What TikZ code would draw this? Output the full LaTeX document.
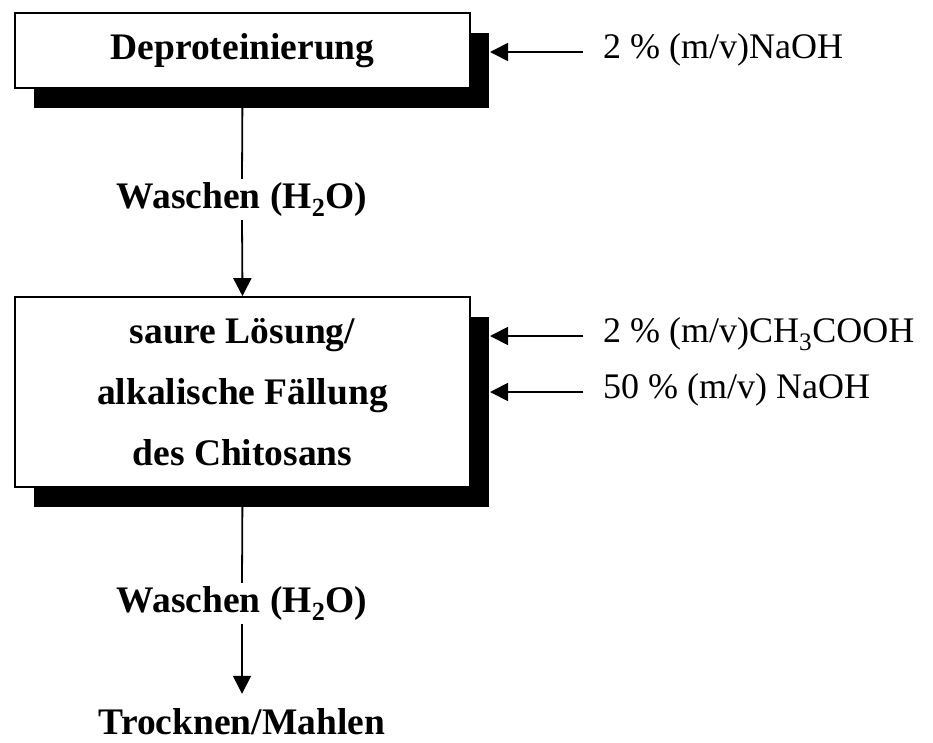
\documentclass[tikz,border=0pt]{standalone}
\usepackage{fontspec}
\setmainfont{Liberation Serif}
\usetikzlibrary{arrows.meta,shadows,calc}
\begin{document}
\begin{tikzpicture}[x=1pt,y=-1pt,
  every node/.style={font=\fontsize{36}{43}\selectfont},
  procbox/.style={draw, fill=white, line width=1.7pt, inner sep=0pt,
    minimum width=455pt,
    general shadow={fill=black, shadow xshift=19pt, shadow yshift=-19.5pt}},
  boldtxt/.style={font=\fontsize{37.5}{45}\selectfont\bfseries, inner sep=0pt},
  steptxt/.style={font=\fontsize{37.5}{45}\selectfont\bfseries, inner xsep=0pt, inner ysep=3pt},
  reagent/.style={font=\fontsize{36}{43}\selectfont, inner sep=0pt},
  flow/.style={line width=1.8pt},
  arr/.style={line width=1.8pt, -{Triangle[length=18pt,width=18pt]}}
]
\useasboundingbox (0,0) rectangle (933,742);

% boxes
\node[procbox, minimum height=75pt, font=\fontsize{37.5}{45}\selectfont\bfseries] (box1) at (242.5,50.5) {Deproteinierung};
\node[procbox, minimum height=190pt] (box2) at (242.5,392) {};
\node[boldtxt, anchor=base] (l1) at (242.5,343) {saure Lösung/};
\node[boldtxt, anchor=base] (l2) at (242.5,404) {alkalische Fällung};
\node[boldtxt, anchor=base] (l3) at (242.5,465) {des Chitosans};

% step texts
\node[steptxt, anchor=base] (wash1) at (242,208) {Waschen (H\textsubscript{2}O)};
\node[steptxt, anchor=base] (wash2) at (242,612) {Waschen (H\textsubscript{2}O)};
\node[boldtxt, anchor=base] (trock) at (242,734) {Trocknen/Mahlen};

% reagents
\node[reagent, anchor=base west] (r1) at (603,58) {2 \% (m/v)NaOH};
\node[reagent, anchor=base west] (r2) at (603,342) {2 \% (m/v)CH\textsubscript{3}COOH};
\node[reagent, anchor=base west] (r3) at (603,398) {50 \% (m/v) NaOH};

% vertical connectors
\draw[flow] (box1.south) -- (wash1.north);
\draw[arr] (wash1.south) -- (box2.north);
\draw[flow] (box2.south) -- (wash2.north);
\draw[arr, shorten >=14pt] (wash2.south) -- (trock.north);

% reagent arrows
\draw[arr] ($(r1.base west)+(-20,-6)$) -- ($(r1.base west)+(-113,-6)$);
\draw[arr] ($(r2.base west)+(-20,-6)$) -- ($(r2.base west)+(-113,-6)$);
\draw[arr] ($(r3.base west)+(-20,-6)$) -- ($(r3.base west)+(-113,-6)$);
\end{tikzpicture}
\end{document}
